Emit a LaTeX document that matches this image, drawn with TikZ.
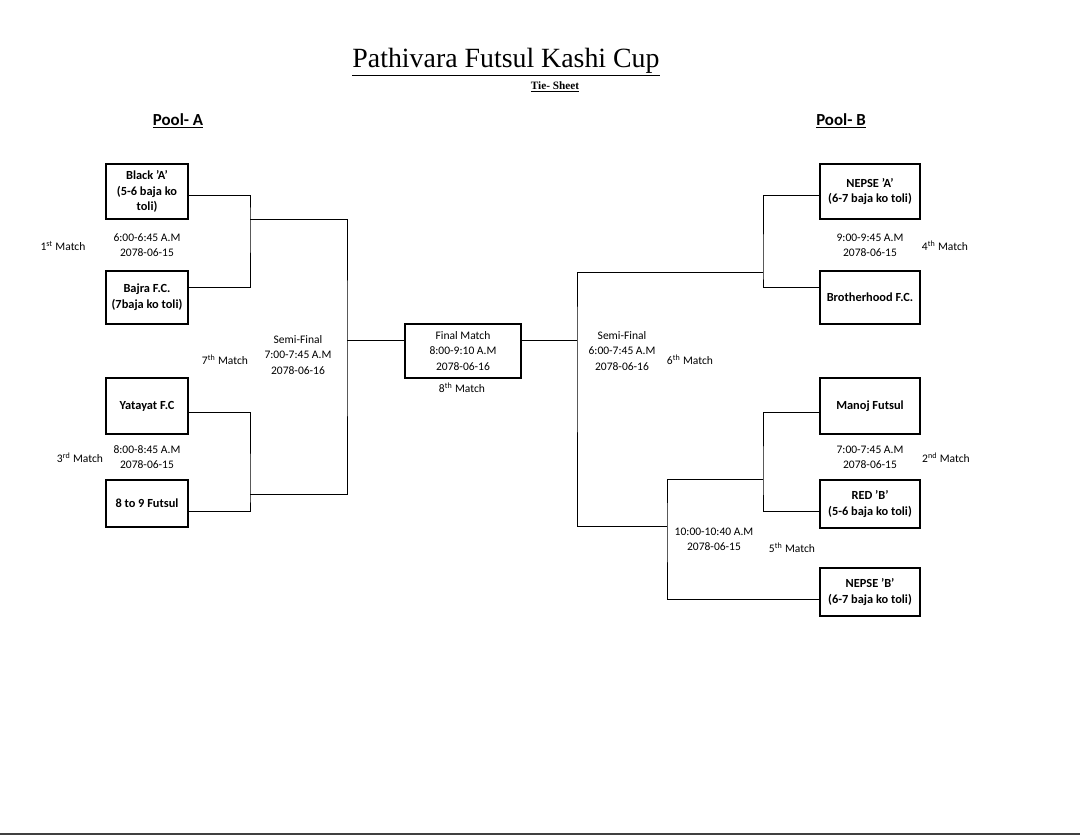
\documentclass[tikz,border=0pt]{standalone}
\usepackage{fontspec}
\setmainfont{Carlito}
\newfontfamily\titlefont{Liberation Serif}
\usepackage{tikz}
\tikzstyle{team} = [rectangle, draw=black, line width=1.1pt, align=center, inner sep=1pt,
  font=\fontsize{8.8}{11.2}\selectfont\bfseries]
\tikzstyle{lteam} = [team, minimum width=2.05cm]
\tikzstyle{rteam} = [team, minimum width=2.5cm]
\tikzstyle{info} = [align=center, inner sep=1pt, font=\fontsize{8.2}{10.7}\selectfont]
\tikzstyle{link} = [line width=0.7pt, draw=black]
\newcommand{\nth}[2]{#1\textsuperscript{#2} Match}

\begin{document}
\begin{tikzpicture}[x=0.025cm, y=-0.025cm]
			\useasboundingbox (0,0) rectangle (1080,836);
			% headings
			\node (title) at (506,62) {\titlefont\fontsize{19.8}{24}\selectfont\underline{Pathivara Futsul Kashi Cup}};
			\node (tie) at (555,87) {\titlefont\fontsize{8}{9}\selectfont\bfseries\underline{Tie- Sheet}};
			\node (poolA) at (178,121) {\fontsize{12}{14}\selectfont\bfseries\underline{Pool- A}};
			\node (poolB) at (841,121) {\fontsize{12}{14}\selectfont\bfseries\underline{Pool- B}};
			% pool A teams
			\node [lteam, minimum height=1.375cm] (blackA) at (147,191.5) {Black 'A'\\(5-6 baja ko\\toli)};
			\node [lteam, minimum height=1.325cm] (bajra) at (147,297.5) {Bajra F.C.\\(7baja ko toli)};
			\node [lteam, minimum height=1.4cm] (yatayat) at (147,406) {Yatayat F.C};
			\node [lteam, minimum height=1.175cm] (eightnine) at (147,503.5) {8 to 9 Futsul};
			% pool B teams
			\node [rteam, minimum height=1.375cm] (nepseA) at (870,191.5) {NEPSE 'A'\\(6-7 baja ko toli)};
			\node [rteam, minimum height=1.325cm] (brother) at (870,297.5) {Brotherhood F.C.};
			\node [rteam, minimum height=1.4cm] (manoj) at (870,406) {Manoj Futsul};
			\node [rteam, minimum height=1.2cm] (redB) at (870,504) {RED 'B'\\(5-6 baja ko toli)};
			\node [rteam, minimum height=1.2cm] (nepseB) at (870,592) {NEPSE 'B'\\(6-7 baja ko toli)};
			% final
			\node [team, font=\fontsize{8.2}{10.9}\selectfont, minimum width=2.9cm, minimum height=1.35cm] (final) at (463,351) {Final Match\\8:00-9:10 A.M\\2078-06-16};
			% junctions
			\coordinate (m1) at (250,219);
			\coordinate (m3) at (250,494);
			\coordinate (sA) at (347,340);
			\coordinate (sB) at (577,340);
			\coordinate (m4) at (763,272);
			\coordinate (m2) at (763,479);
			\coordinate (m5) at (667,526);
			% brackets
			\draw [link] ([yshift=-1.1mm]blackA.east) -| (m1) |- ([yshift=2.6mm]bajra.east);
			\draw [link] ([yshift=-1.5mm]yatayat.east) -| (m3) |- ([yshift=-1.9mm]eightnine.east);
			\draw [link] (m1) -| (sA) |- (m3);
			\draw [link] (sA) -- (sA -| final.west);
			\draw [link] (final.east |- sB) -- (sB);
			\draw [link] ([yshift=-1.1mm]nepseA.west) -| (m4) |- ([yshift=2.6mm]brother.west);
			\draw [link] ([yshift=-1.5mm]manoj.west) -| (m2) |- ([yshift=-1.75mm]redB.west);
			\draw [link] (m2) -| (m5) |- ([yshift=-1.75mm]nepseB.west);
			\draw [link] (m4) -| (sB) |- (m5);
			% match labels
			\node [info] (t1) at (147,245.5) {6:00-6:45 A.M\\2078-06-15};
			\node [info] (n1) at (63,246) {\nth{1}{st}};
			\node [info] (t3) at (147,457) {8:00-8:45 A.M\\2078-06-15};
			\node [info] (n3) at (80,458) {\nth{3}{rd}};
			\node [info] (t7) at (298,355) {Semi-Final\\7:00-7:45 A.M\\2078-06-16};
			\node [info] (n7) at (225,360) {\nth{7}{th}};
			\node [info] (n8) at (462,388) {\nth{8}{th}};
			\node [info] (t6) at (622,351) {Semi-Final\\6:00-7:45 A.M\\2078-06-16};
			\node [info] (n6) at (690,360) {\nth{6}{th}};
			\node [info] (t4) at (870,245.5) {9:00-9:45 A.M\\2078-06-15};
			\node [info] (n4) at (945,246) {\nth{4}{th}};
			\node [info] (t2) at (870,457) {7:00-7:45 A.M\\2078-06-15};
			\node [info] (n2) at (946,458) {\nth{2}{nd}};
			\node [info] (t5) at (714,539) {10:00-10:40 A.M\\2078-06-15};
			\node [info] (n5) at (792,548) {\nth{5}{th}};
			% page edge
			\coordinate (edgeL) at (0,834);
			\coordinate (edgeR) at (1080,834);
			\draw [line width=1.2pt, black!75] (edgeL) -- (edgeR);
		\end{tikzpicture}
\end{document}
